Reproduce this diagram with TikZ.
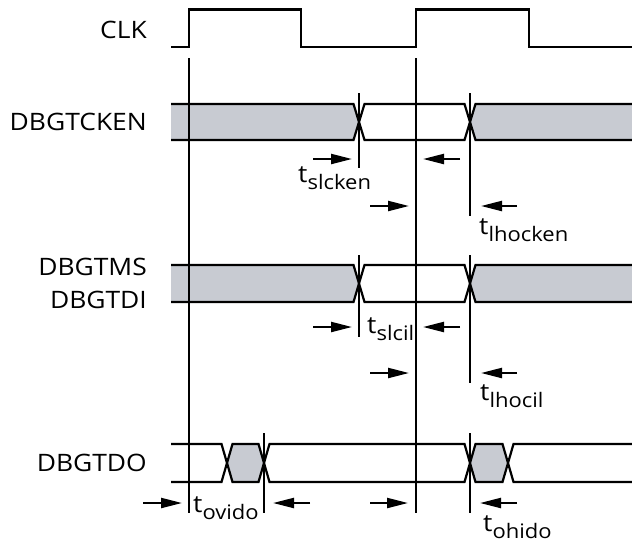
\documentclass[tikz,border=0pt]{standalone}
\usepackage{fontspec}
\setmainfont{Open Sans}[FakeStretch=1.1]
\usetikzlibrary{arrows.meta}
\definecolor{busgrey}{RGB}{200,203,210}
\newcommand\tsub[1]{t\raisebox{-7pt}[\height][0pt]{\fontsize{20}{20}\selectfont #1}}
\begin{document}
\begin{tikzpicture}[x=1pt,y=-1pt,
  wave/.style={line width=2.2pt, line join=miter},
  tick/.style={line width=2.2pt},
  meas/.style={line width=2.2pt, -{Triangle[length=21pt,width=10pt]}},
  sig/.style={anchor=east, inner sep=0pt, align=right, font=\fontsize{24}{33}\selectfont},
  tl/.style={anchor=base west, inner sep=0pt, font=\fontsize{24}{27}\selectfont}]
\useasboundingbox (0,0) rectangle (632,542);

% signal names
\node[sig] (clk)  at (147,30)  {CLK};
\node[sig] (cken) at (147,122) {DBGTCKEN};
\node[sig] (ms)   at (147,283) {DBGTMS\\DBGTDI};
\node[sig] (dout) at (147,463) {DBGTDO};

% grey fills
\fill[busgrey] (171,104) -- (353.5,104) -- (359,122) -- (353.5,140) -- (171,140) -- cycle;
\fill[busgrey] (632,104) -- (475.5,104) -- (470,122) -- (475.5,140) -- (632,140) -- cycle;
\fill[busgrey] (171,265) -- (353.5,265) -- (359,283.5) -- (353.5,302) -- (171,302) -- cycle;
\fill[busgrey] (632,265) -- (475.5,265) -- (470,283.5) -- (475.5,302) -- (632,302) -- cycle;
\fill[busgrey] (227,463) -- (232.5,444) -- (258.5,444) -- (264,463) -- (258.5,482) -- (232.5,482) -- cycle;
\fill[busgrey] (470,463) -- (475.5,444) -- (502.5,444) -- (508,463) -- (502.5,482) -- (475.5,482) -- cycle;

% CLK
\draw[wave] (171,47) -- (189,47) -- (189,9.5) -- (301,9.5) -- (301,47) -- (416,47) -- (416,9.5) -- (529,9.5) -- (529,47) -- (632,47);

% DBGTCKEN
\draw[wave] (171,104) -- (353.5,104) -- (364.5,140) -- (464.5,140) -- (475.5,104) -- (632,104);
\draw[wave] (171,140) -- (353.5,140) -- (364.5,104) -- (464.5,104) -- (475.5,140) -- (632,140);

% DBGTMS / DBGTDI
\draw[wave] (171,265) -- (353.5,265) -- (364.5,302) -- (464.5,302) -- (475.5,265) -- (632,265);
\draw[wave] (171,302) -- (353.5,302) -- (364.5,265) -- (464.5,265) -- (475.5,302) -- (632,302);

% DBGTDO
\draw[wave] (171,444) -- (221.5,444) -- (232.5,482) -- (258.5,482) -- (269.5,444) -- (464.5,444) -- (475.5,482) -- (502.5,482) -- (513.5,444) -- (632,444);
\draw[wave] (171,482) -- (221.5,482) -- (232.5,444) -- (258.5,444) -- (269.5,482) -- (464.5,482) -- (475.5,444) -- (502.5,444) -- (513.5,482) -- (632,482);

% clock reference lines
\draw[tick] (189,58) coordinate (r1t) -- (189,513) coordinate (r1b);
\draw[tick] (416,58) coordinate (r2t) -- (416,513) coordinate (r2b);

% transition ticks
\draw[tick] (359,93) -- (359,168);
\draw[tick] (470,93) -- (470,216);
\draw[tick] (359,255) -- (359,337);
\draw[tick] (470,255) -- (470,383);
\draw[tick] (264,433) -- (264,513);
\draw[tick] (470,433) -- (470,513);

% measurement arrows
\draw[meas] (313,159) coordinate (a1) -- (352,159) coordinate (b1);
\draw[meas] (460,159) coordinate (a2) -- (423,159) coordinate (b2);
\draw[meas] (370,206) coordinate (a3) -- (409,206) coordinate (b3);
\draw[meas] (517,206) coordinate (a4) -- (481,206) coordinate (b4);
\draw[meas] (313,327) coordinate (a5) -- (352,327) coordinate (b5);
\draw[meas] (460,327) coordinate (a6) -- (423,327) coordinate (b6);
\draw[meas] (370,373) coordinate (a7) -- (409,373) coordinate (b7);
\draw[meas] (517,373) coordinate (a8) -- (481,373) coordinate (b8);
\draw[meas] (143,503) coordinate (a9) -- (182,503) coordinate (b9);
\draw[meas] (310,503) coordinate (a10) -- (273,503) coordinate (b10);
\draw[meas] (370,503) coordinate (a11) -- (408,503) coordinate (b11);
\draw[meas] (517,503) coordinate (a12) -- (480,503) coordinate (b12);

% timing labels
\node[tl] (tslcken)  at (298,182) {\tsub{slcken}};
\node[tl] (tlhocken) at (479,234) {\tsub{lhocken}};
\node[tl] (tslcil)   at (367,333) {\tsub{slcil}};
\node[tl] (tlhocil)  at (480,400) {\tsub{lhocil}};
\node[tl] (tovido)   at (193,512) {\tsub{ovido}};
\node[tl] (tohido)   at (483,531) {\tsub{ohido}};
\end{tikzpicture}
\end{document}
